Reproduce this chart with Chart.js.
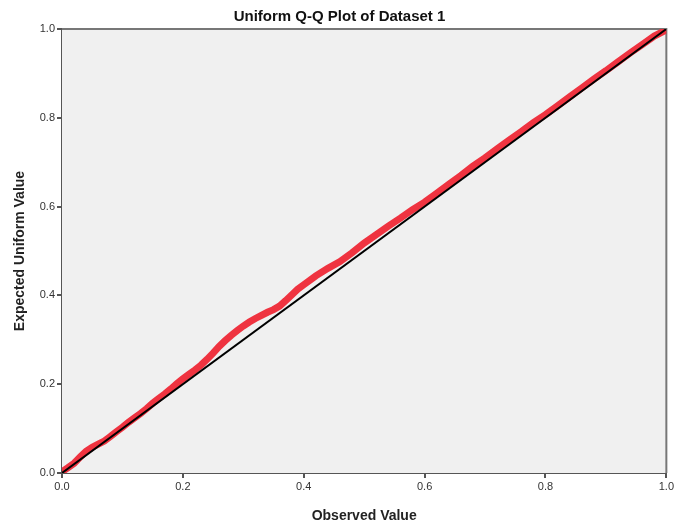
<!DOCTYPE html>
<html>
<head>
<meta charset="utf-8">
<script src="https://cdn.jsdelivr.net/npm/chart.js@4/dist/chart.umd.min.js"></script>
<style>
  html, body { margin: 0; padding: 0; background: #ffffff; }
  #wrap { width: 676px; height: 525px; }
</style>
</head>
<body>
<div id="wrap"><canvas id="qqChart" width="676" height="525"></canvas></div>
<script>
var observedValues = [
    0.00, 0.01, 0.02, 0.03, 0.04, 0.05, 0.06, 0.07, 0.08, 0.09,
    0.10, 0.11, 0.12, 0.13, 0.14, 0.15, 0.16, 0.17, 0.18, 0.19,
    0.20, 0.21, 0.22, 0.23, 0.24, 0.25, 0.26, 0.27, 0.28, 0.29,
    0.30, 0.31, 0.32, 0.33, 0.34, 0.35, 0.36, 0.37, 0.38, 0.39,
    0.40, 0.42, 0.44, 0.46, 0.48, 0.50, 0.52, 0.54, 0.56, 0.58,
    0.60, 0.62, 0.64, 0.66, 0.68, 0.70, 0.72, 0.74, 0.76, 0.78,
    0.80, 0.82, 0.84, 0.86, 0.88, 0.90, 0.92, 0.94, 0.96, 0.98, 1.00
];
var expectedValues = [
    0.003, 0.012, 0.022, 0.036, 0.049, 0.058, 0.065, 0.072, 0.082, 0.093,
    0.103, 0.114, 0.124, 0.134, 0.145, 0.157, 0.168, 0.178, 0.189, 0.201,
    0.212, 0.222, 0.232, 0.243, 0.256, 0.270, 0.285, 0.298, 0.310, 0.321,
    0.331, 0.340, 0.348, 0.355, 0.362, 0.368, 0.376, 0.388, 0.401, 0.414,
    0.424, 0.444, 0.461, 0.476, 0.496, 0.518, 0.537, 0.556, 0.574, 0.593,
    0.610, 0.630, 0.650, 0.670, 0.691, 0.710, 0.730, 0.750, 0.769, 0.789,
    0.807, 0.827, 0.847, 0.867, 0.887, 0.906, 0.926, 0.946, 0.965, 0.984, 0.998
];
// Reference line (expected = observed)
var refLine = [0, 1];
var tickValues = [0, 0.2, 0.4, 0.6, 0.8, 1.0];

var fontFamily = "'Liberation Sans', Arial, sans-serif";

// Plot background and the top/right frame
var plotFrame = {
    id: 'plotFrame',
    beforeDatasetsDraw: function (chart) {
        var a = chart.chartArea;
        var ctx = chart.ctx;
        ctx.save();
        ctx.fillStyle = '#f0f0f0';
        ctx.fillRect(a.left, a.top, a.right - a.left, a.bottom - a.top);
        ctx.strokeStyle = '#777777';
        ctx.lineWidth = 2;
        ctx.beginPath();
        ctx.moveTo(a.left, a.top);
        ctx.lineTo(a.right, a.top);
        ctx.lineTo(a.right, a.bottom);
        ctx.stroke();
        ctx.restore();
    }
};

var qqPoints = observedValues.map(function (x, i) {
    return { x: x, y: expectedValues[i] };
});
var linePoints = refLine.map(function (v) {
    return { x: v, y: v };
});

function axis(title, isY) {
    return {
        type: 'linear',
        min: 0,
        max: 1,
        afterBuildTicks: function (scale) {
            scale.ticks = tickValues.map(function (v) { return { value: v }; });
        },
        afterFit: function (scale) {
            if (isY) { scale.width = 50; } else { scale.height = 52; }
        },
        ticks: {
            color: '#333333',
            font: { family: fontFamily, size: 11 },
            padding: 2,
            callback: function (v) { return Number(v).toFixed(1); }
        },
        grid: { drawOnChartArea: false, drawTicks: true, tickLength: 5, color: '#555555', lineWidth: 2 },
        border: { color: '#555555', width: 2 },
        title: {
            display: true,
            text: title,
            color: '#222222',
            font: { family: fontFamily, size: 14, weight: 'bold' },
            padding: isY ? { top: 0, bottom: 4 } : { top: 4, bottom: 0 }
        }
    };
}

var ctx = document.getElementById('qqChart').getContext('2d');
var qqChart = new Chart(ctx, {
    type: 'scatter',
    data: {
        datasets: [{
            label: 'Reference',
            type: 'line',
            data: linePoints,
            borderColor: '#000000',
            borderWidth: 2,
            pointRadius: 0,
            fill: false
        }, {
            label: 'Dataset 1',
            type: 'line',
            data: qqPoints,
            borderColor: '#ef3340',
            borderWidth: 7,
            pointRadius: 0,
            tension: 0,
            fill: false
        }]
    },
    options: {
        responsive: false,
        animation: false,
        layout: { padding: { left: 12, right: 9, top: 0, bottom: 0 } },
        plugins: {
            legend: { display: false },
            tooltip: { enabled: false },
            title: {
                display: true,
                text: 'Uniform Q-Q Plot of Dataset 1',
                color: '#111111',
                font: { family: fontFamily, size: 15, weight: 'bold', lineHeight: 1.2 },
                padding: { top: 8, bottom: 3 }
            }
        },
        scales: {
            x: axis('Observed Value', false),
            y: axis('Expected Uniform Value', true)
        }
    },
    plugins: [plotFrame]
});
</script>
</body>
</html>
